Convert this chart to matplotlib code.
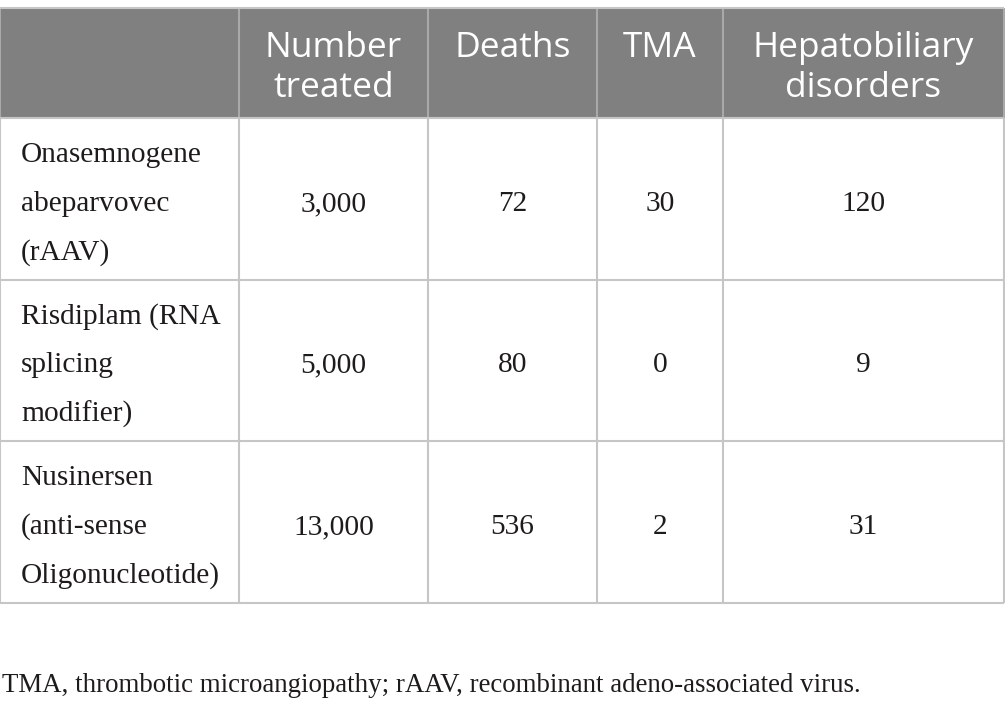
import matplotlib
matplotlib.use("Agg")
import matplotlib.pyplot as plt
from matplotlib.patches import Rectangle

# ---- data ----
columns = ["Number\ntreated", "Deaths", "TMA", "Hepatobiliary\ndisorders"]
drugs = ["Onasemnogene\nabeparvovec\n(rAAV)",
         "Risdiplam (RNA\nsplicing\nmodifier)",
         "Nusinersen\n(anti-sense\nOligonucleotide)"]
number_treated = ["3,000", "5,000", "13,000"]
deaths = [72, 80, 536]
tma = [30, 0, 2]
hepatobiliary = [120, 9, 31]
footnote = "TMA, thrombotic microangiopathy; rAAV, recombinant adeno-associated virus."

# ---- layout (pixel coordinates) ----
W, H = 1005, 709
col_x = [0, 239, 428, 597, 723, 1004]
row_y = [8, 118, 280, 441, 603]
header_bg = "#7f807f"
line_col_body = "#c6c6c6"
line_col_head = "#a9a9a9"
text_col = "#1e1b1c"
serif = ["Liberation Serif", "DejaVu Serif"]
sans = ["Open Sans", "DejaVu Sans"]

fig = plt.figure(figsize=(W / 100, H / 100), dpi=100)
ax = fig.add_axes([0, 0, 1, 1])
ax.set_xlim(0, W)
ax.set_ylim(H, 0)
ax.axis("off")

# header background
ax.add_patch(Rectangle((col_x[0], row_y[0]), col_x[-1] - col_x[0], row_y[1] - row_y[0],
                       facecolor=header_bg, edgecolor="none", zorder=0))

# grid lines
for y in row_y:
    ax.plot([col_x[0], col_x[-1]], [y, y], color=line_col_body, lw=1.5, zorder=2,
            solid_capstyle="butt")
for x in col_x:
    ax.plot([x, x], [row_y[0], row_y[1]], color=line_col_head, lw=1.5, zorder=1,
            solid_capstyle="butt")
    ax.plot([x, x], [row_y[1], row_y[-1]], color=line_col_body, lw=1.5, zorder=1,
            solid_capstyle="butt")

# header text
head_base = [57, 97]
for j, name in enumerate(columns):
    cx = (col_x[j + 1] + col_x[j + 2]) / 2
    for k, line in enumerate(name.split("\n")):
        ax.text(cx, head_base[k], line, ha="center", va="baseline", color="white",
                fontsize=25.5, family=sans)

# body
values = list(zip(number_treated, deaths, tma, hepatobiliary))
line_gap = 49
for r, drug in enumerate(drugs):
    mid = (row_y[r + 1] + row_y[r + 2]) / 2
    lines = drug.split("\n")
    n = len(lines)
    for k, line in enumerate(lines):
        yb = mid + 12 + (k - (n - 1) / 2) * line_gap
        ax.text(21, yb, line, ha="left", va="baseline", color=text_col,
                fontsize=21.2, family=serif)
    for j, v in enumerate(values[r]):
        cx = (col_x[j + 1] + col_x[j + 2]) / 2
        ax.text(cx, mid + 12, str(v), ha="center", va="baseline", color=text_col,
                fontsize=21.2, family=serif)

ax.text(2, 692, footnote, ha="left", va="baseline", color=text_col,
        fontsize=19.4, family=serif)

fig.savefig("out.png", dpi=100)
